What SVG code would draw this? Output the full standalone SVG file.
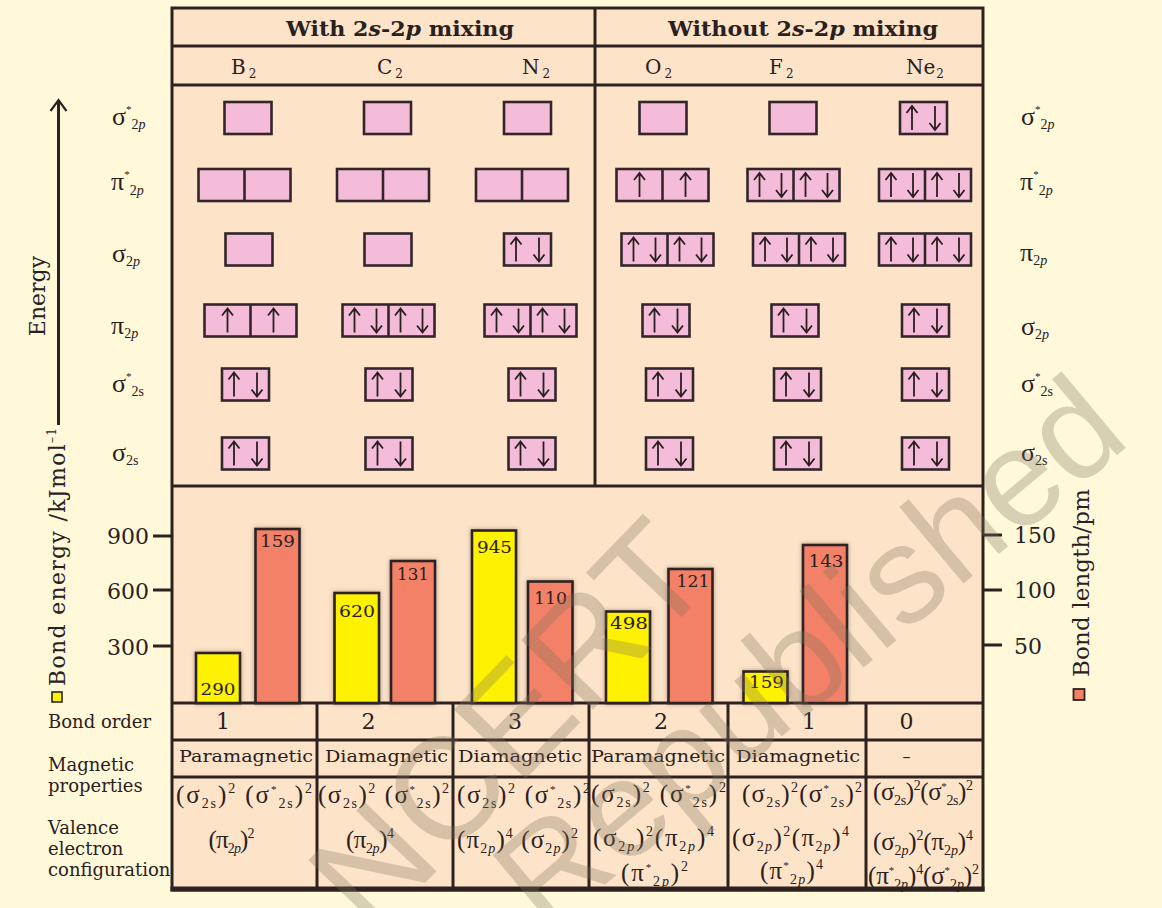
<svg xmlns="http://www.w3.org/2000/svg" xmlns:xlink="http://www.w3.org/1999/xlink" width="1162" height="908" viewBox="0 0 1162 908">
<style>
.ln{stroke:#2d2220;stroke-width:3;fill:none}
.box{fill:#f5bcd9;stroke:#33262a;stroke-width:2.6}
.mid{stroke:#33262a;stroke-width:2.6}
.t{font-family:"DejaVu Serif",serif;fill:#2a201e}
.hd{font-family:"DejaVu Serif",serif;font-weight:bold;font-size:21px;fill:#2a201e}
.el{font-family:"DejaVu Serif",serif;font-size:20px;fill:#2a201e}
.es{font-size:12px}
.mo{font-family:"Liberation Serif",serif;font-size:26px;fill:#2a201e}
.cf{font-family:"Liberation Serif",serif;font-size:25px;fill:#2a201e}
.sb{font-size:14px}
.st{font-size:11px}
.i{font-style:italic}
.lab{font-family:"DejaVu Serif",serif;font-size:18px;fill:#2a201e}
.mag{font-family:"DejaVu Serif",serif;font-size:16px;fill:#2a201e}
.num{font-family:"DejaVu Serif",serif;font-size:22px;fill:#2a201e}
.bl{font-family:"DejaVu Serif",serif;font-size:16px;fill:#2a201e;text-anchor:middle}
.ye{fill:#fff200;stroke:#2d2220;stroke-width:2.6;filter:url(#sh)}
.rd{fill:#f38168;stroke:#2d2220;stroke-width:2.6;filter:url(#sh)}
.wm{font-family:"Liberation Sans",sans-serif;fill:#7d705a;fill-opacity:0.3}
</style>
<defs>
<filter id="sh" x="-20%" y="-20%" width="140%" height="140%"><feDropShadow dx="0" dy="0" stdDeviation="2" flood-color="#5a4a40" flood-opacity="0.5"/></filter>
<path id="up" d="M0,12V-12M-5.5,-5L0,-12L5.5,-5" fill="none" stroke="#2a1f1f" stroke-width="1.8"/>
<path id="dn" d="M0,-12V12M-5.5,5L0,12L5.5,5" fill="none" stroke="#2a1f1f" stroke-width="1.8"/>
</defs>
<rect width="1162" height="908" fill="#fff9da"/>

<g id="table">
<rect x="172" y="8" width="811" height="882" fill="#fde3c8"/>
<line class="ln" x1="172" y1="46" x2="983" y2="46"/>
<line class="ln" x1="172" y1="85" x2="983" y2="85"/>
<line class="ln" x1="172" y1="486" x2="983" y2="486"/>
<line class="ln" x1="172" y1="703" x2="983" y2="703"/>
<line class="ln" x1="172" y1="740" x2="983" y2="740"/>
<line class="ln" x1="172" y1="777" x2="983" y2="777"/>
<line class="ln" x1="595" y1="8" x2="595" y2="486"/>
<line class="ln" x1="317" y1="703" x2="317" y2="890"/>
<line class="ln" x1="453" y1="703" x2="453" y2="890"/>
<line class="ln" x1="589" y1="703" x2="589" y2="890"/>
<line class="ln" x1="728" y1="703" x2="728" y2="890"/>
<line class="ln" x1="866" y1="703" x2="866" y2="890"/>
<rect class="ln" x="172" y="8" width="811" height="882"/>
<line stroke="#2d2220" stroke-width="5" x1="170.5" y1="889" x2="984.5" y2="889"/>
</g>

<g id="headers">
<text class="hd" x="286" y="36" textLength="228" lengthAdjust="spacingAndGlyphs">With 2<tspan class="i">s</tspan>-2<tspan class="i">p</tspan> mixing</text>
<text class="hd" x="668" y="36" textLength="270" lengthAdjust="spacingAndGlyphs">Without 2<tspan class="i">s</tspan>-2<tspan class="i">p</tspan> mixing</text>
<text class="el" x="231" y="74">B<tspan class="es" dx="3" dy="4">2</tspan></text>
<text class="el" x="377" y="74">C<tspan class="es" dx="3" dy="4">2</tspan></text>
<text class="el" x="522" y="74">N<tspan class="es" dx="3" dy="4">2</tspan></text>
<text class="el" x="645" y="74">O<tspan class="es" dx="3" dy="4">2</tspan></text>
<text class="el" x="769" y="74">F<tspan class="es" dx="3" dy="4">2</tspan></text>
<text class="el" x="906" y="74">Ne<tspan class="es" dx="1" dy="4">2</tspan></text>
</g>

<g id="energy-axis">
<line class="ln" x1="58.5" y1="101" x2="58.5" y2="425" stroke-width="2.2"/>
<path d="M50.5,111L58.5,100L66.5,111" fill="none" stroke="#2d2220" stroke-width="2.2"/>
<text class="t" font-size="22" text-anchor="middle" transform="translate(45,296) rotate(-90)">Energy</text>
</g>

<g id="mo-labels-left">
<text class="mo" x="112" y="125">σ<tspan class="st" dy="-12">*</tspan><tspan class="sb" dy="16">2<tspan class="i">p</tspan></tspan></text>
<text class="mo" x="111" y="190">π<tspan class="st" dy="-12">*</tspan><tspan class="sb" dy="17">2<tspan class="i">p</tspan></tspan></text>
<text class="mo" x="112" y="262">σ<tspan class="sb" dy="4">2<tspan class="i">p</tspan></tspan></text>
<text class="mo" x="111" y="334">π<tspan class="sb" dy="4">2<tspan class="i">p</tspan></tspan></text>
<text class="mo" x="112" y="392">σ<tspan class="st" dy="-12">*</tspan><tspan class="sb" dy="16">2s</tspan></text>
<text class="mo" x="112" y="461">σ<tspan class="sb" dy="4">2s</tspan></text>
</g>

<g id="mo-labels-right">
<text class="mo" x="1021" y="125">σ<tspan class="st" dy="-12">*</tspan><tspan class="sb" dy="16">2<tspan class="i">p</tspan></tspan></text>
<text class="mo" x="1020" y="190">π<tspan class="st" dy="-12">*</tspan><tspan class="sb" dy="17">2<tspan class="i">p</tspan></tspan></text>
<text class="mo" x="1020" y="261">π<tspan class="sb" dy="4">2<tspan class="i">p</tspan></tspan></text>
<text class="mo" x="1021" y="335">σ<tspan class="sb" dy="4">2<tspan class="i">p</tspan></tspan></text>
<text class="mo" x="1021" y="392">σ<tspan class="st" dy="-12">*</tspan><tspan class="sb" dy="16">2s</tspan></text>
<text class="mo" x="1021" y="461">σ<tspan class="sb" dy="4">2s</tspan></text>
</g>

<g id="mo-B2">
<rect class="box" x="224.5" y="102" width="47" height="32"/>
<rect class="box" x="198.5" y="169" width="92" height="32"/><line class="mid" x1="244.5" y1="169" x2="244.5" y2="201"/>
<rect class="box" x="225.5" y="233.5" width="47" height="32"/>
<rect class="box" x="204.5" y="304.5" width="92" height="32"/><line class="mid" x1="250.5" y1="304.5" x2="250.5" y2="336.5"/>
<use href="#up" x="227.5" y="320.5"/><use href="#up" x="273.5" y="320.5"/>
<rect class="box" x="222" y="368.5" width="47" height="32"/>
<use href="#up" x="234" y="384.5"/><use href="#dn" x="257" y="384.5"/>
<rect class="box" x="222" y="437.5" width="47" height="32"/>
<use href="#up" x="234" y="453.5"/><use href="#dn" x="257" y="453.5"/>
</g>

<g id="mo-C2">
<rect class="box" x="364" y="102" width="47" height="32"/>
<rect class="box" x="337" y="169" width="92" height="32"/><line class="mid" x1="383" y1="169" x2="383" y2="201"/>
<rect class="box" x="364.5" y="233.5" width="47" height="32"/>
<rect class="box" x="342.5" y="304.5" width="92" height="32"/><line class="mid" x1="388.5" y1="304.5" x2="388.5" y2="336.5"/>
<use href="#up" x="354.5" y="320.5"/><use href="#dn" x="376.5" y="320.5"/><use href="#up" x="400.5" y="320.5"/><use href="#dn" x="422.5" y="320.5"/>
<rect class="box" x="365.5" y="368.5" width="47" height="32"/>
<use href="#up" x="377.5" y="384.5"/><use href="#dn" x="400.5" y="384.5"/>
<rect class="box" x="365.5" y="437.5" width="47" height="32"/>
<use href="#up" x="377.5" y="453.5"/><use href="#dn" x="400.5" y="453.5"/>
</g>

<g id="mo-N2">
<rect class="box" x="504" y="102" width="47" height="32"/>
<rect class="box" x="476" y="169" width="92" height="32"/><line class="mid" x1="522" y1="169" x2="522" y2="201"/>
<rect class="box" x="504" y="233.5" width="47" height="32"/>
<use href="#up" x="516" y="249.5"/><use href="#dn" x="539" y="249.5"/>
<rect class="box" x="484.5" y="304.5" width="92" height="32"/><line class="mid" x1="530.5" y1="304.5" x2="530.5" y2="336.5"/>
<use href="#up" x="496.5" y="320.5"/><use href="#dn" x="518.5" y="320.5"/><use href="#up" x="542.5" y="320.5"/><use href="#dn" x="564.5" y="320.5"/>
<rect class="box" x="508.5" y="368.5" width="47" height="32"/>
<use href="#up" x="520.5" y="384.5"/><use href="#dn" x="543.5" y="384.5"/>
<rect class="box" x="508.5" y="437.5" width="47" height="32"/>
<use href="#up" x="520.5" y="453.5"/><use href="#dn" x="543.5" y="453.5"/>
</g>

<g id="mo-O2">
<rect class="box" x="639.5" y="102" width="47" height="32"/>
<rect class="box" x="616.5" y="169" width="92" height="32"/><line class="mid" x1="662.5" y1="169" x2="662.5" y2="201"/>
<use href="#up" x="639.5" y="185"/><use href="#up" x="685.5" y="185"/>
<rect class="box" x="621.5" y="233.5" width="92" height="32"/><line class="mid" x1="667.5" y1="233.5" x2="667.5" y2="265.5"/>
<use href="#up" x="633.5" y="249.5"/><use href="#dn" x="655.5" y="249.5"/><use href="#up" x="679.5" y="249.5"/><use href="#dn" x="701.5" y="249.5"/>
<rect class="box" x="642.5" y="304.5" width="47" height="32"/>
<use href="#up" x="654.5" y="320.5"/><use href="#dn" x="677.5" y="320.5"/>
<rect class="box" x="646" y="368.5" width="47" height="32"/>
<use href="#up" x="658" y="384.5"/><use href="#dn" x="681" y="384.5"/>
<rect class="box" x="646" y="437.5" width="47" height="32"/>
<use href="#up" x="658" y="453.5"/><use href="#dn" x="681" y="453.5"/>
</g>

<g id="mo-F2">
<rect class="box" x="769.5" y="102" width="47" height="32"/>
<rect class="box" x="747.5" y="169" width="92" height="32"/><line class="mid" x1="793.5" y1="169" x2="793.5" y2="201"/>
<use href="#up" x="759.5" y="185"/><use href="#dn" x="781.5" y="185"/><use href="#up" x="805.5" y="185"/><use href="#dn" x="827.5" y="185"/>
<rect class="box" x="753" y="233.5" width="92" height="32"/><line class="mid" x1="799" y1="233.5" x2="799" y2="265.5"/>
<use href="#up" x="765" y="249.5"/><use href="#dn" x="787" y="249.5"/><use href="#up" x="811" y="249.5"/><use href="#dn" x="833" y="249.5"/>
<rect class="box" x="771.5" y="304.5" width="47" height="32"/>
<use href="#up" x="783.5" y="320.5"/><use href="#dn" x="806.5" y="320.5"/>
<rect class="box" x="774" y="368.5" width="47" height="32"/>
<use href="#up" x="786" y="384.5"/><use href="#dn" x="809" y="384.5"/>
<rect class="box" x="774" y="437.5" width="47" height="32"/>
<use href="#up" x="786" y="453.5"/><use href="#dn" x="809" y="453.5"/>
</g>

<g id="mo-Ne2">
<rect class="box" x="900" y="102" width="47" height="32"/>
<use href="#up" x="912" y="118"/><use href="#dn" x="935" y="118"/>
<rect class="box" x="879" y="169" width="92" height="32"/><line class="mid" x1="925" y1="169" x2="925" y2="201"/>
<use href="#up" x="891" y="185"/><use href="#dn" x="913" y="185"/><use href="#up" x="937" y="185"/><use href="#dn" x="959" y="185"/>
<rect class="box" x="879" y="233.5" width="92" height="32"/><line class="mid" x1="925" y1="233.5" x2="925" y2="265.5"/>
<use href="#up" x="891" y="249.5"/><use href="#dn" x="913" y="249.5"/><use href="#up" x="937" y="249.5"/><use href="#dn" x="959" y="249.5"/>
<rect class="box" x="902" y="304.5" width="47" height="32"/>
<use href="#up" x="914" y="320.5"/><use href="#dn" x="937" y="320.5"/>
<rect class="box" x="902" y="368.5" width="47" height="32"/>
<use href="#up" x="914" y="384.5"/><use href="#dn" x="937" y="384.5"/>
<rect class="box" x="902" y="437.5" width="47" height="32"/>
<use href="#up" x="914" y="453.5"/><use href="#dn" x="937" y="453.5"/>
</g>

<g id="chart-axes">
<line class="ln" x1="153" y1="536" x2="172" y2="536"/>
<line class="ln" x1="153" y1="590" x2="172" y2="590"/>
<line class="ln" x1="153" y1="646" x2="172" y2="646"/>
<text class="num" x="149" y="544" text-anchor="end">900</text>
<text class="num" x="149" y="599" text-anchor="end">600</text>
<text class="num" x="149" y="655" text-anchor="end">300</text>
<line class="ln" x1="983" y1="535" x2="1002" y2="535"/>
<line class="ln" x1="983" y1="590" x2="1002" y2="590"/>
<line class="ln" x1="983" y1="645" x2="1002" y2="645"/>
<text class="num" x="1014" y="543">150</text>
<text class="num" x="1014" y="598">100</text>
<text class="num" x="1014" y="654">50</text>
<rect x="52" y="692" width="10" height="10" fill="#fff200" stroke="#2d2220" stroke-width="1.6"/>
<text class="t" font-size="22" transform="translate(65,686) rotate(-90)" textLength="258">Bond energy  /kJmol<tspan font-size="12" dy="-9">–1</tspan></text>
<rect x="1073.5" y="689" width="11" height="11" fill="#f38168" stroke="#2d2220" stroke-width="1.8"/>
<text class="t" font-size="23" transform="translate(1089,677) rotate(-90)" textLength="188">Bond length/pm</text>
</g>

<g id="bars">
<rect class="ye" x="196" y="653" width="44" height="50"/>
<rect class="rd" x="255.5" y="529" width="44" height="174"/>
<rect class="ye" x="334.5" y="593" width="44.5" height="110"/>
<rect class="rd" x="391" y="561" width="44" height="142"/>
<rect class="ye" x="472" y="530.5" width="44" height="172.5"/>
<rect class="rd" x="528" y="581.5" width="44.5" height="121.5"/>
<rect class="ye" x="606" y="611.5" width="44" height="91.5"/>
<rect class="rd" x="668.5" y="569" width="44" height="134"/>
<rect class="ye" x="743.5" y="671.5" width="44" height="31.5"/>
<rect class="rd" x="803" y="545" width="44" height="158"/>
<text class="bl" x="218" y="695" textLength="35" lengthAdjust="spacingAndGlyphs">290</text>
<text class="bl" x="277.5" y="547" textLength="35" lengthAdjust="spacingAndGlyphs">159</text>
<text class="bl" x="357" y="617" textLength="36" lengthAdjust="spacingAndGlyphs">620</text>
<text class="bl" x="413" y="580" textLength="32" lengthAdjust="spacingAndGlyphs">131</text>
<text class="bl" x="494.5" y="553" textLength="35" lengthAdjust="spacingAndGlyphs">945</text>
<text class="bl" x="550.5" y="604" textLength="33" lengthAdjust="spacingAndGlyphs">110</text>
<text class="bl" x="629" y="629" textLength="38" lengthAdjust="spacingAndGlyphs">498</text>
<text class="bl" x="693" y="587" textLength="33" lengthAdjust="spacingAndGlyphs">121</text>
<text class="bl" x="766.5" y="688" textLength="35" lengthAdjust="spacingAndGlyphs">159</text>
<text class="bl" x="826" y="567" textLength="35" lengthAdjust="spacingAndGlyphs">143</text>
</g>

<g id="row-labels">
<text class="lab" x="48" y="728">Bond order</text>
<text class="lab" x="48" y="771">Magnetic</text>
<text class="lab" x="48" y="792">properties</text>
<text class="lab" x="48" y="834">Valence</text>
<text class="lab" x="48" y="855">electron</text>
<text class="lab" x="48" y="876">configuration</text>
</g>

<g id="bond-order">
<text class="num" x="223" y="729" font-size="21" text-anchor="middle">1</text>
<text class="num" x="368.5" y="729" font-size="21" text-anchor="middle">2</text>
<text class="num" x="515" y="729" font-size="21" text-anchor="middle">3</text>
<text class="num" x="661" y="729" font-size="21" text-anchor="middle">2</text>
<text class="num" x="809" y="729" font-size="21" text-anchor="middle">1</text>
<text class="num" x="906.5" y="729" font-size="21" text-anchor="middle">0</text>
</g>

<g id="magnetic">
<text class="mag" x="179" y="762" textLength="134" lengthAdjust="spacingAndGlyphs">Paramagnetic</text>
<text class="mag" x="325" y="762" textLength="123" lengthAdjust="spacingAndGlyphs">Diamagnetic</text>
<text class="mag" x="458" y="762" textLength="124" lengthAdjust="spacingAndGlyphs">Diamagnetic</text>
<text class="mag" x="591" y="762" textLength="134" lengthAdjust="spacingAndGlyphs">Paramagnetic</text>
<text class="mag" x="736" y="762" textLength="124" lengthAdjust="spacingAndGlyphs">Diamagnetic</text>
<text class="mag" x="906.5" y="762" text-anchor="middle">–</text>
</g>

<g id="configurations">
<text class="cf" x="176" y="803" textLength="136">(σ<tspan class="sb" dy="5">2s</tspan><tspan dy="-5">)</tspan><tspan class="sb" dy="-10">2</tspan><tspan dy="10"> (σ</tspan><tspan class="st" dy="-10">*</tspan><tspan class="sb" dy="15">2s</tspan><tspan dy="-5">)</tspan><tspan class="sb" dy="-10">2</tspan></text>
<text class="cf" x="318" y="803" textLength="131">(σ<tspan class="sb" dy="5">2s</tspan><tspan dy="-5">)</tspan><tspan class="sb" dy="-10">2</tspan><tspan dy="10"> (σ</tspan><tspan class="st" dy="-10">*</tspan><tspan class="sb" dy="15">2s</tspan><tspan dy="-5">)</tspan><tspan class="sb" dy="-10">2</tspan></text>
<text class="cf" x="457" y="803" textLength="133">(σ<tspan class="sb" dy="5">2s</tspan><tspan dy="-5">)</tspan><tspan class="sb" dy="-10">2</tspan><tspan dy="10"> (σ</tspan><tspan class="st" dy="-10">*</tspan><tspan class="sb" dy="15">2s</tspan><tspan dy="-5">)</tspan><tspan class="sb" dy="-10">2</tspan></text>
<text class="cf" x="591" y="802" textLength="135">(σ<tspan class="sb" dy="5">2s</tspan><tspan dy="-5">)</tspan><tspan class="sb" dy="-10">2</tspan><tspan dy="10"> (σ</tspan><tspan class="st" dy="-10">*</tspan><tspan class="sb" dy="15">2s</tspan><tspan dy="-5">)</tspan><tspan class="sb" dy="-10">2</tspan></text>
<text class="cf" x="742" y="802" textLength="120">(σ<tspan class="sb" dy="5">2s</tspan><tspan dy="-5">)</tspan><tspan class="sb" dy="-10">2</tspan><tspan dy="10">(σ</tspan><tspan class="st" dy="-10">*</tspan><tspan class="sb" dy="15">2s</tspan><tspan dy="-5">)</tspan><tspan class="sb" dy="-10">2</tspan></text>
<text class="cf" x="873" y="800" textLength="100">(σ<tspan class="sb" dy="5">2s</tspan><tspan dy="-5">)</tspan><tspan class="sb" dy="-10">2</tspan><tspan dy="10">(σ</tspan><tspan class="st" dy="-10">*</tspan><tspan class="sb" dy="15">2s</tspan><tspan dy="-5">)</tspan><tspan class="sb" dy="-10">2</tspan></text>

<text class="cf" x="208.5" y="848" textLength="46">(π<tspan class="sb" dy="5">2<tspan class="i">p</tspan></tspan><tspan dy="-5">)</tspan><tspan class="sb" dy="-10">2</tspan></text>
<text class="cf" x="346" y="848" textLength="48">(π<tspan class="sb" dy="5">2<tspan class="i">p</tspan></tspan><tspan dy="-5">)</tspan><tspan class="sb" dy="-10">4</tspan></text>
<text class="cf" x="457" y="848" textLength="121">(π<tspan class="sb" dy="5">2<tspan class="i">p</tspan></tspan><tspan dy="-5">)</tspan><tspan class="sb" dy="-10">4</tspan><tspan dy="10"> (σ</tspan><tspan class="sb" dy="5">2<tspan class="i">p</tspan></tspan><tspan dy="-5">)</tspan><tspan class="sb" dy="-10">2</tspan></text>
<text class="cf" x="593" y="846" textLength="121">(σ<tspan class="sb" dy="5">2<tspan class="i">p</tspan></tspan><tspan dy="-5">)</tspan><tspan class="sb" dy="-10">2</tspan><tspan dy="10">(π</tspan><tspan class="sb" dy="5">2<tspan class="i">p</tspan></tspan><tspan dy="-5">)</tspan><tspan class="sb" dy="-10">4</tspan></text>
<text class="cf" x="732" y="846" textLength="117">(σ<tspan class="sb" dy="5">2<tspan class="i">p</tspan></tspan><tspan dy="-5">)</tspan><tspan class="sb" dy="-10">2</tspan><tspan dy="10">(π</tspan><tspan class="sb" dy="5">2<tspan class="i">p</tspan></tspan><tspan dy="-5">)</tspan><tspan class="sb" dy="-10">4</tspan></text>
<text class="cf" x="873" y="850" textLength="100">(σ<tspan class="sb" dy="5">2<tspan class="i">p</tspan></tspan><tspan dy="-5">)</tspan><tspan class="sb" dy="-10">2</tspan><tspan dy="10">(π</tspan><tspan class="sb" dy="5">2<tspan class="i">p</tspan></tspan><tspan dy="-5">)</tspan><tspan class="sb" dy="-10">4</tspan></text>

<text class="cf" x="621" y="881" textLength="67">(π<tspan class="st" dy="-10">*</tspan><tspan class="sb" dy="15">2<tspan class="i">p</tspan></tspan><tspan dy="-5">)</tspan><tspan class="sb" dy="-10">2</tspan></text>
<text class="cf" x="760" y="879" textLength="63">(π<tspan class="st" dy="-10">*</tspan><tspan class="sb" dy="15">2<tspan class="i">p</tspan></tspan><tspan dy="-5">)</tspan><tspan class="sb" dy="-10">4</tspan></text>
<text class="cf" x="868" y="884" textLength="111">(π<tspan class="st" dy="-10">*</tspan><tspan class="sb" dy="15">2<tspan class="i">p</tspan></tspan><tspan dy="-5">)</tspan><tspan class="sb" dy="-10">4</tspan><tspan dy="10">(σ</tspan><tspan class="st" dy="-10">*</tspan><tspan class="sb" dy="15">2<tspan class="i">p</tspan></tspan><tspan dy="-5">)</tspan><tspan class="sb" dy="-10">2</tspan></text>
</g>

<g id="watermark">
<text class="wm" font-size="145" transform="translate(372,938) rotate(-46)">NCERT</text>
<text class="wm" font-size="138" transform="translate(545,935) rotate(-40)">Republished</text>
</g>
</svg>
